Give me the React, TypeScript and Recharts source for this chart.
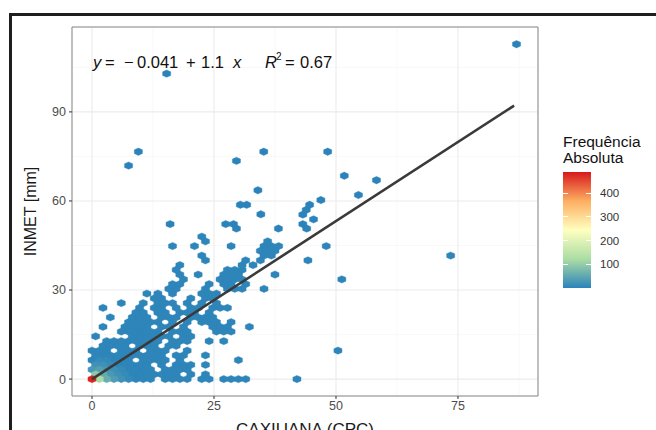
import { ScatterChart, Scatter, XAxis, YAxis, CartesianGrid, ReferenceArea } from "recharts";

// axis ticks (ggplot theme_bw look: major + minor grid)
const xTicks = [0, 25, 50, 75];
const yTicks = [0, 30, 60, 90];
const xMinor = [12.5, 37.5, 62.5, 87.5];
const yMinor = [15, 45, 75, 105];
const legendTicks = [100, 200, 300, 400];
const countMax = 490;

// hexbin cells: [row y, x centres in that row]
const hexRows: [number, number[]][] = [
  [0, [0, 1.5, 3, 4.5, 6, 7.5, 9, 10.5, 12, 15, 16.5, 18, 19.5, 22.5, 24, 27, 28.5, 30, 31.5, 42]],
  [1.6, [0.75, 2.25, 3.75, 5.25, 6.75, 8.25, 9.75, 11.25, 12.75, 14.25, 15.75, 17.25, 20.25, 23.25]],
  [3.2, [0, 1.5, 3, 4.5, 6, 7.5, 9, 10.5, 12, 15, 16.5, 18, 19.5]],
  [4.8, [0.75, 2.25, 3.75, 5.25, 6.75, 8.25, 9.75, 11.25, 14.25, 17.25, 18.75, 20.25, 23.25]],
  [6.4, [0, 1.5, 3, 4.5, 6, 7.5, 10.5, 12, 13.5, 15, 18, 30]],
  [8, [0.75, 2.25, 3.75, 5.25, 6.75, 8.25, 9.75, 11.25, 12.75, 14.25, 17.25, 18.75, 23.25]],
  [9.6, [0, 1.5, 3, 6, 7.5, 9, 12, 13.5, 15, 19.5, 50.4]],
  [11.2, [2.25, 3.75, 5.25, 6.75, 9.75, 11.25, 12.75, 15.75, 17.25]],
  [12.8, [3, 4.5, 6, 7.5, 9, 10.5, 12, 13.5, 16.5, 18, 19.5, 24, 27]],
  [14.4, [0.75, 8.25, 9.75, 11.25, 12.75, 14.25, 15.75, 18.75, 20.25]],
  [16, [6, 7.5, 9, 10.5, 12, 13.5, 16.5, 18, 19.5, 25.5, 27, 28.5]],
  [17.6, [2.25, 6.75, 8.25, 9.75, 11.25, 14.25, 15.75, 18.75, 24.75, 26.25, 27.75, 32.25]],
  [19.2, [7.5, 9, 10.5, 12, 13.5, 16.5, 19.5, 22.5, 24, 25.5, 28.5]],
  [20.8, [3.75, 8.25, 9.75, 11.25, 14.25, 15.75, 17.25, 20.25, 21.75, 23.25, 24.75]],
  [22.4, [9, 10.5, 13.5, 15, 18, 19.5, 21, 24]],
  [24, [2.25, 9.75, 12.75, 14.25, 17.25, 20.25, 21.75, 24.75, 26.25, 27.75]],
  [25.6, [6, 10.5, 13.5, 15, 16.5, 19.5, 22.5, 25.5]],
  [27.2, [12.75, 14.25, 20.25, 23.25, 24.75]],
  [28.8, [11.25, 13.5, 16.5, 22.5, 24, 25.5]],
  [30.4, [15.75, 17.25, 23.25, 27.75, 29.25, 30.75, 35.25]],
  [32, [16.5, 18, 24, 27, 28.5, 31.5]],
  [33.6, [18.75, 26.25, 27.75, 29.25, 30.75, 51.2]],
  [35.2, [18, 21.75, 27, 28.5, 30, 37.5]],
  [36.8, [17.25, 27.75, 29.25, 30.75]],
  [38.4, [18, 30.75, 33]],
  [40, [23.25, 31.5, 34.5, 44.25]],
  [41.6, [22.5, 35.25, 36.75, 73.5]],
  [43.2, [34.5, 36, 37.5]],
  [44.8, [16.5, 21, 28.5, 35.25, 36.75, 38.25, 48]],
  [46.4, [23.25, 36]],
  [48, [22.5]],
];

// single hexes further out: [x, y]
const isolated: [number, number][] = [
  [38.2, 50.7], [44, 50.7], [29.6, 50.7], [16, 52.2], [27.4, 52.2], [29, 52.2], [43.2, 52.2],
  [45.4, 53.8], [43.2, 55.4], [34.6, 55.5], [43.9, 57], [44.6, 58.7], [30.4, 58.7], [31.7, 58.7],
  [46.9, 60.3], [54.6, 62], [34, 63.6], [58.3, 67], [51.7, 68.5], [7.5, 71.9], [29.6, 73.5],
  [9.5, 76.6], [35.2, 76.6], [48.3, 76.6], [15.3, 102.9], [87, 112.8],
];

// high-frequency cells near the origin: [x, y, count]
const hotCells: [number, number, number][] = [
  [0, 0, 480], [1.5, 0, 120], [0.75, 1.6, 95], [3, 0, 60], [2.25, 1.6, 55], [1.5, 3.2, 40],
  [4.5, 0, 35], [0, 3.2, 30], [3.75, 1.6, 30], [3, 3.2, 25], [0.75, 4.8, 20], [2.25, 4.8, 20],
  [6, 0, 20], [4.5, 3.2, 18], [5.25, 1.6, 18], [6.75, 1.6, 12], [3.75, 4.8, 12], [6, 3.2, 10],
  [7.5, 0, 10], [1.5, 6.4, 10], [3, 6.4, 9],
];

const fitX = [0, 86.5];
const fitY = [-0.041, 92.1];

const cellMap = new Map<string, { x: number; y: number; count: number }>();
hexRows.forEach(([y, xs]) => xs.forEach(x => cellMap.set(`${x}|${y}`, { x, y, count: 4 })));
isolated.forEach(([x, y]) => cellMap.set(`${x}|${y}`, { x, y, count: 1 }));
hotCells.forEach(([x, y, count]) => cellMap.set(`${x}|${y}`, { x, y, count }));
const cells = Array.from(cellMap.values()).sort((a, b) => a.count - b.count);
const fitData = fitX.map((x, i) => ({ x, y: fitY[i] }));

const stops = ["#2b83ba", "#abdda4", "#ffffbf", "#fdae61", "#d7191c"];

const hexToRgb = (h: string) => [1, 3, 5].map(i => parseInt(h.slice(i, i + 2), 16));

const fillFor = (v: number) => {
  const t = Math.max(0, Math.min(1, (v - 1) / (countMax - 1))) * (stops.length - 1);
  const i = Math.min(stops.length - 2, Math.floor(t));
  const f = t - i;
  const a = hexToRgb(stops[i]);
  const b = hexToRgb(stops[i + 1]);
  const c = a.map((v0, k) => Math.round(v0 + (b[k] - v0) * f));
  return `rgb(${c[0]},${c[1]},${c[2]})`;
};

const Hex = (props: any) => {
  const { cx, cy, payload } = props;
  const w = 4.05, h = 3.7, s = 1.85;
  const c = fillFor(payload.count);
  const pts = `${cx},${cy - h} ${cx + w},${cy - s} ${cx + w},${cy + s} ${cx},${cy + h} ${cx - w},${cy + s} ${cx - w},${cy - s}`;
  return <polygon points={pts} fill={c} stroke={c} strokeWidth={0.4} />;
};

const tickStyle = { fontSize: 12.5, fill: "#4d4d4d", fontFamily: '"Liberation Sans", Arial, sans-serif' };

// pieces of the fitted-equation label: text, left, italic, superscript
const eqParts: [string, number, boolean, boolean][] = [
  ["y", 93, true, false], ["=", 105, false, false], ["\u2212", 124, false, false],
  ["0.041", 137, false, false], ["+", 186, false, false], ["1.1", 201, false, false],
  ["x", 233, true, false], ["R", 265, true, false], ["2", 276, false, true],
  ["=", 285, false, false], ["0.67", 300, false, false],
];

const App = () => {
  const barTop = 172, barH = 116;
  return (
    <div style={{ position: "absolute", left: 0, top: 0, width: 656, height: 430, background: "#fff", overflow: "hidden", fontFamily: '"Liberation Sans", Arial, sans-serif' }}>
      <div style={{ position: "absolute", left: 9, top: 13, right: 0, bottom: 0, borderTop: "3px solid #1e1e1e", borderLeft: "3px solid #1e1e1e" }} />
      <div style={{ position: "absolute", left: 0, top: 0 }}>
        <ScatterChart width={656} height={430} margin={{ top: 27, right: 118, bottom: 0, left: 0 }}>
          <CartesianGrid stroke="#f3f3f3" strokeWidth={0.6} horizontalValues={yMinor} verticalValues={xMinor} />
          <CartesianGrid stroke="#ebebeb" strokeWidth={1.1} />
          <XAxis
            type="number"
            dataKey="x"
            domain={[-4.1, 91.4]}
            ticks={xTicks}
            allowDataOverflow
            height={34}
            axisLine={false}
            tickSize={3}
            tickMargin={2}
            tickLine={{ stroke: "#333" }}
            tick={tickStyle}
            label={{ value: "CAXIUANA (CPC)", position: "insideBottom", offset: -5, style: { fontSize: 17, fill: "#1a1a1a" } }}
          />
          <YAxis
            type="number"
            dataKey="y"
            domain={[-5.7, 118.6]}
            ticks={yTicks}
            allowDataOverflow
            width={72}
            axisLine={false}
            tickSize={3}
            tickMargin={3}
            tickLine={{ stroke: "#333" }}
            tick={tickStyle}
            label={{ value: "INMET [mm]", angle: -90, position: "insideLeft", offset: 30, style: { fontSize: 16, fill: "#1a1a1a", textAnchor: "middle" } }}
          />
          <Scatter data={cells} shape={Hex} isAnimationActive={false} />
          <Scatter data={fitData} line={{ stroke: "#3a3a3a", strokeWidth: 2.6 }} lineType="joint" shape={() => <g />} isAnimationActive={false} />
          <ReferenceArea x1={-4.1} x2={91.4} y1={-5.7} y2={118.6} fill="none" stroke="#8a8a8a" strokeWidth={1} ifOverflow="visible" />
        </ScatterChart>
      </div>
      {eqParts.map(([t, left, it, sup], i) => (
        <span key={i} style={{ position: "absolute", left, top: sup ? 49 : 54, fontSize: sup ? 10 : 16.5, lineHeight: "16px", fontStyle: it ? "italic" : "normal", color: "#111" }}>{t}</span>
      ))}
      <div style={{ position: "absolute", left: 563, top: 134, fontSize: 15.5, lineHeight: "16px", color: "#111" }}>
        Frequência<br />Absoluta
      </div>
      <div style={{ position: "absolute", left: 563, top: barTop, width: 28, height: barH, background: `linear-gradient(to top, ${stops.join(", ")})` }} />
      {legendTicks.map(v => {
        const y = barTop + barH - (v / countMax) * barH;
        return (
          <div key={v}>
            <div style={{ position: "absolute", left: 563, top: y - 0.5, width: 5, height: 1, background: "#fff" }} />
            <div style={{ position: "absolute", left: 586, top: y - 0.5, width: 5, height: 1, background: "#fff" }} />
            <div style={{ position: "absolute", left: 600, top: y - 7, fontSize: 11.5, lineHeight: "14px", color: "#333" }}>{v}</div>
          </div>
        );
      })}
    </div>
  );
};

export default App;
